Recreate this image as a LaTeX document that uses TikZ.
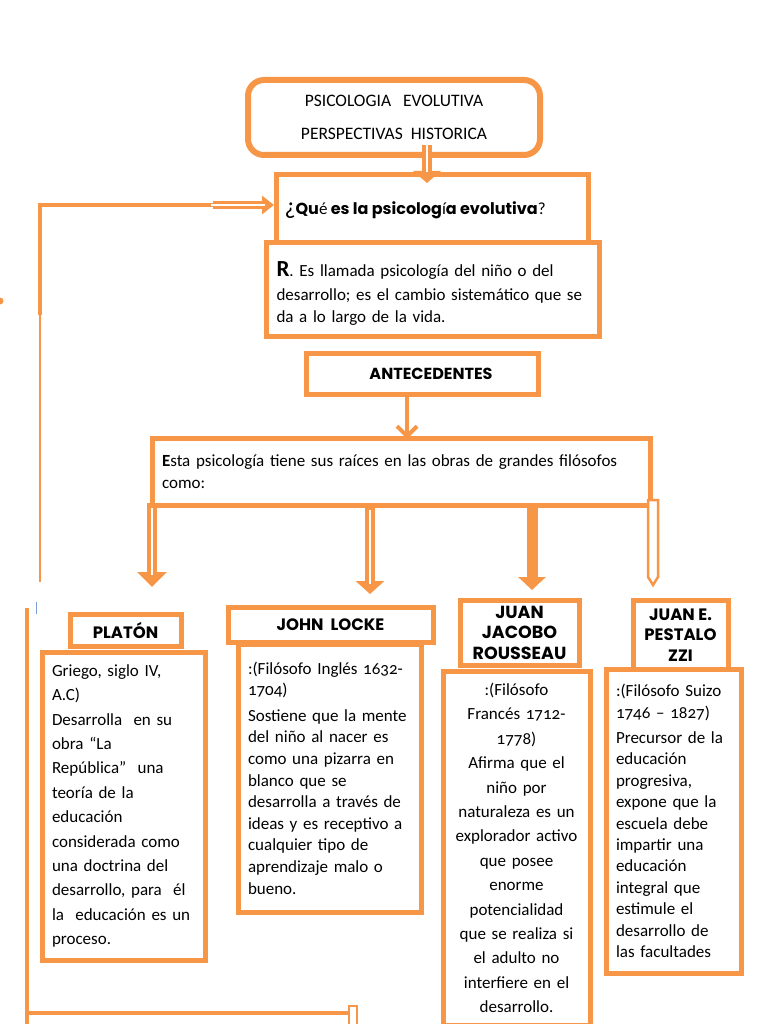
\documentclass[tikz,border=0pt]{standalone}
\usepackage{fontspec}
\setmainfont{Carlito}[Numbers=OldStyle]
\newfontfamily\hdfont{Poppins}
\usetikzlibrary{arrows.meta,calc}
\definecolor{orng}{HTML}{F79646}
\definecolor{cursorblue}{HTML}{7F9FD3}
\tikzset{
  box/.style={draw=orng, line width=5pt, fill=white, inner sep=0pt},
  bodytxt/.style={box, align=left, inner xsep=10pt},
  hdtxt/.style={box, align=center, font=\hdfont\bfseries\fontsize{16.5}{20.5}\selectfont},
  link/.style={draw=orng, line width=4pt},
  inner/.style={draw=white, line width=2.5pt},
}
\begin{document}
\begin{tikzpicture}[x=1pt,y=-1pt]
\useasboundingbox (0,0) rectangle (768,1024);

% title
\node[box, rounded corners=16pt, line width=6pt, minimum width=292pt, minimum height=75pt,
      align=center, font=\fontsize{17.5}{33}\selectfont] (title) at (394,117.5)
  {PSICOLOGIA\ \ \ EVOLUTIVA\\PERSPECTIVAS\ \ HISTORICA};

% question and answer
\node[bodytxt, minimum width=312pt, minimum height=70pt, text width=296pt, inner xsep=8pt] (question) at (432.5,210)
  {{\fontsize{24}{20}\selectfont ¿}{\hdfont\fontsize{16}{20}\selectfont\bfseries Qu}{\fontsize{17}{20}\selectfont é}{\hdfont\fontsize{16}{20}\selectfont\bfseries{} es la psicolog}{\fontsize{17}{20}\selectfont í}{\hdfont\fontsize{16}{20}\selectfont\bfseries a evolutiva}{\fontsize{17}{20}\selectfont ?}};
\node[box, minimum width=333pt, minimum height=94pt] (answer) at (433,289) {};
\node[align=left, inner sep=0pt, text width=313pt, font=\fontsize{17}{21.5}\selectfont]
  (answertxt) at ($(answer.center)+(0,4.5)$)
  {{\fontsize{23}{21.5}\selectfont\bfseries R}. Es llamada psicología del niño o del\\[2.5pt]
   desarrollo; es el cambio sistemático que se\\
   da a lo largo de la vida.};

% arrow title -> question
\coordinate (tA) at (427,145);
\coordinate (tB) at (427,183);
\draw[orng, line width=10pt, -{Triangle[width=27pt,length=12pt]}] (tA) -- (tB);
\draw[inner] (427,143) -- (427,172);

% feedback line on the left
\coordinate (fbTop) at (40,205);
\coordinate (fbMid) at (40,315);
\coordinate (fbBot) at (40,582);
\coordinate (fbArr) at (213,205);
\draw[orng, line width=2.5pt] (fbBot) -- (fbMid);
\draw[orng, line width=3.5pt] (fbMid) -- (fbTop) -- (fbArr);
\draw[orng, line width=8pt, -{Triangle[width=18pt,length=12pt]}] (fbArr) -- (question.west |- fbArr);
\draw[inner, line width=2.5pt] (211,205) -- (265,205);
\fill[orng] (0,301) circle (3.5pt);

% antecedentes
\node[box, minimum width=232pt, minimum height=41pt, font=\hdfont\bfseries\fontsize{16}{18}\selectfont] (ante) at (422,373.5)
  {\hspace*{18pt}ANTECEDENTES};
\node[bodytxt, minimum width=498pt, minimum height=67pt, text width=478pt,
      font=\fontsize{17}{22}\selectfont] (roots) at (401,471.5)
  {{\bfseries E}sta psicología tiene sus raíces en las obras de grandes filósofos\\como:};
\coordinate (anteOut) at (407,394);
\coordinate (rootsIn) at (407,439);
\draw[link, -{Straight Barb[width=20pt,length=10pt]}] (anteOut) -- (rootsIn);

% headers
\node[hdtxt, minimum width=111pt, minimum height=32pt] (platonH) at (125.5,630) {PLATÓN};
\node[hdtxt, minimum width=205pt, minimum height=35pt] (lockeH) at (330.5,624.5) {JOHN\ \ LOCKE};
\node[hdtxt, minimum width=119pt, minimum height=65pt, font=\hdfont\bfseries\fontsize{17.5}{20.5}\selectfont] (rousseauH) at (519.5,632.5) {JUAN\\JACOBO\\ROUSSEAU};
\node[hdtxt, minimum width=95pt, minimum height=70pt] (pestaH) at (680.5,635) {JUAN E.\\PESTALO\\ZZI};

% bodies
\node[bodytxt, minimum width=163pt, minimum height=308pt, text width=143pt,
      font=\fontsize{17}{24.4}\selectfont] (platonB) at (123.5,806)
  {Griego, siglo IV,\\ A.C)\\ Desarrolla\ \ en su\\ obra “La\\ República”\ \ una\\ teoría de la\\
   educación\\ considerada como\\ una doctrina del\\ desarrollo, para\ \ él\\ la\ \ educación es un\\ proceso.};
\node[bodytxt, minimum width=183pt, minimum height=268pt, text width=163pt,
      font=\fontsize{17}{21.6}\selectfont] (lockeB) at (329.5,778)
  {:(Filósofo Inglés 1632-\\ 1704)\\[4pt] Sostiene que la mente\\ del niño al nacer es\\ como una pizarra en\\
   blanco que se\\ desarrolla a través de\\ ideas y es receptivo a\\ cualquier tipo de\\ aprendizaje malo o\\ bueno.};
\node[box, minimum width=147pt, minimum height=354pt, text width=137pt, inner xsep=5pt, align=center,
      font=\fontsize{17}{24.4}\selectfont] (rousseauB) at (516.5,848)
  {:(Filósofo\\ Francés 1712-\\ 1778)\\ Afirma que el\\ niño por\\ naturaleza es un\\ explorador activo\\
   que posee\\ enorme\\ potencialidad\\ que se realiza si\\ el adulto no\\ interfiere en el\\ desarrollo.};
\node[bodytxt, minimum width=135pt, minimum height=304pt, text width=115pt,
      font=\fontsize{17}{21.4}\selectfont] (pestaB) at (673.5,821)
  {:(Filósofo Suizo\\ 1746 – 1827)\\[4pt] Precursor de la\\ educación\\ progresiva,\\ expone que la\\
   escuela debe\\ impartir una\\ educación\\ integral que\\ estimule el\\ desarrollo de\\ las facultades};

% arrows from roots to philosophers
\coordinate (aP) at (152,503);
\coordinate (aPe) at (152,587);
\draw[orng, line width=10pt, -{Triangle[width=29pt,length=15pt]}] (aP) -- (aPe);
\draw[inner] (152,508) -- (152,575);
\coordinate (aL) at (370,505);
\coordinate (aLe) at (370,594);
\draw[orng, line width=10pt, -{Triangle[width=28pt,length=13pt]}] (aL) -- (aLe);
\draw[inner] (370,510) -- (370,584);
\coordinate (aR) at (532,505);
\coordinate (aRe) at (532,590);
\draw[orng, line width=11pt, -{Triangle[width=27pt,length=13pt]}] (aR) -- (aRe);
\coordinate (aS) at (653,500);
\coordinate (aSe) at (653,585);
\draw[orng, line width=2.5pt, fill=white] ($(aS)+(-5,0)$) -- ($(aSe)+(-5,-8)$) -- (aSe) -- ($(aSe)+(5,-8)$) -- ($(aS)+(5,0)$) -- cycle;

% bottom-left line
\coordinate (blTop) at (27,608);
\coordinate (blCorner) at (27,1013);
\coordinate (blEnd) at (350,1013);
\draw[orng, line width=3.5pt] (blTop) -- (27,1030);
\draw[orng, line width=4pt] (blCorner) -- (blEnd);
\draw[orng, line width=2.5pt, fill=white] (349,1006) rectangle (357,1030);
\draw[cursorblue, line width=0.8pt] (36.5,602) -- (36.5,614);
\end{tikzpicture}
\end{document}
